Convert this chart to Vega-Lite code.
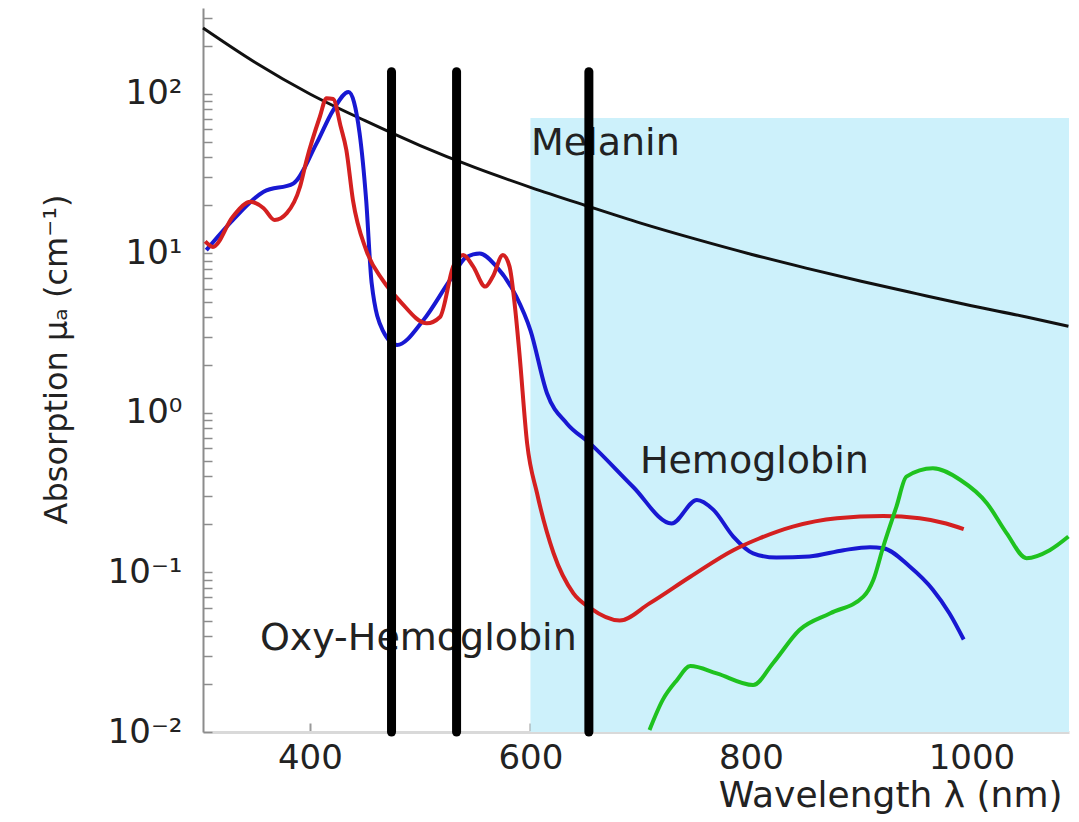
{
  "$schema": "https://vega.github.io/schema/vega-lite/v6.json",
  "width": 866,
  "height": 724,
  "autosize": {"type": "none"},
  "padding": {"left": 203, "top": 8, "right": 10, "bottom": 90},
  "background": "white",
  "config": {"view": {"stroke": null}, "font": "DejaVu Sans"},
  "datasets": {
    "regions": [{"nm": 600, "nm2": 1088.5, "mu": 0.01, "mu2": 70.8}],
    "labels": [
      {"label": "Melanin", "nm": 600.5, "mu": 41.5},
      {"label": "Hemoglobin", "nm": 699.3, "mu": 0.421},
      {"label": "Oxy-Hemoglobin", "nm": 354.6, "mu": 0.0327}
    ],
    "markers": [
      {"nm": 474, "mu": 138, "mu2": 0.01},
      {"nm": 533, "mu": 138, "mu2": 0.01},
      {"nm": 653, "mu": 138, "mu2": 0.01}
    ],
    "curves": [
      {"s": "Melanin", "nm": 303, "mu": 259},
      {"s": "Melanin", "nm": 350, "mu": 158},
      {"s": "Melanin", "nm": 400, "mu": 100},
      {"s": "Melanin", "nm": 450, "mu": 68},
      {"s": "Melanin", "nm": 500, "mu": 47.5},
      {"s": "Melanin", "nm": 550, "mu": 34.5},
      {"s": "Melanin", "nm": 600, "mu": 26},
      {"s": "Melanin", "nm": 650, "mu": 20},
      {"s": "Melanin", "nm": 700, "mu": 15.5},
      {"s": "Melanin", "nm": 750, "mu": 12.3},
      {"s": "Melanin", "nm": 800, "mu": 9.9},
      {"s": "Melanin", "nm": 850, "mu": 8.1},
      {"s": "Melanin", "nm": 900, "mu": 6.7},
      {"s": "Melanin", "nm": 950, "mu": 5.6},
      {"s": "Melanin", "nm": 1000, "mu": 4.7},
      {"s": "Melanin", "nm": 1050, "mu": 4.0},
      {"s": "Melanin", "nm": 1088, "mu": 3.5},

      {"s": "Hemoglobin", "nm": 306, "mu": 10.5},
      {"s": "Hemoglobin", "nm": 330, "mu": 16.2},
      {"s": "Hemoglobin", "nm": 358, "mu": 24.4},
      {"s": "Hemoglobin", "nm": 385, "mu": 27.5},
      {"s": "Hemoglobin", "nm": 406, "mu": 49},
      {"s": "Hemoglobin", "nm": 421, "mu": 79},
      {"s": "Hemoglobin", "nm": 435, "mu": 103},
      {"s": "Hemoglobin", "nm": 445, "mu": 57},
      {"s": "Hemoglobin", "nm": 451, "mu": 21.6},
      {"s": "Hemoglobin", "nm": 456, "mu": 6.5},
      {"s": "Hemoglobin", "nm": 466, "mu": 3.3},
      {"s": "Hemoglobin", "nm": 479, "mu": 2.67},
      {"s": "Hemoglobin", "nm": 503, "mu": 3.83},
      {"s": "Hemoglobin", "nm": 527, "mu": 6.8},
      {"s": "Hemoglobin", "nm": 542, "mu": 9.5},
      {"s": "Hemoglobin", "nm": 554, "mu": 10.0},
      {"s": "Hemoglobin", "nm": 569, "mu": 8.3},
      {"s": "Hemoglobin", "nm": 587, "mu": 5.4},
      {"s": "Hemoglobin", "nm": 600, "mu": 3.3},
      {"s": "Hemoglobin", "nm": 615, "mu": 1.33},
      {"s": "Hemoglobin", "nm": 633, "mu": 0.86},
      {"s": "Hemoglobin", "nm": 654, "mu": 0.645},
      {"s": "Hemoglobin", "nm": 693, "mu": 0.345},
      {"s": "Hemoglobin", "nm": 728, "mu": 0.203},
      {"s": "Hemoglobin", "nm": 751, "mu": 0.285},
      {"s": "Hemoglobin", "nm": 766, "mu": 0.247},
      {"s": "Hemoglobin", "nm": 784, "mu": 0.168},
      {"s": "Hemoglobin", "nm": 802, "mu": 0.132},
      {"s": "Hemoglobin", "nm": 823, "mu": 0.124},
      {"s": "Hemoglobin", "nm": 853, "mu": 0.126},
      {"s": "Hemoglobin", "nm": 884, "mu": 0.138},
      {"s": "Hemoglobin", "nm": 908, "mu": 0.144},
      {"s": "Hemoglobin", "nm": 920, "mu": 0.142},
      {"s": "Hemoglobin", "nm": 944, "mu": 0.109},
      {"s": "Hemoglobin", "nm": 965, "mu": 0.078},
      {"s": "Hemoglobin", "nm": 980, "mu": 0.0555},
      {"s": "Hemoglobin", "nm": 993, "mu": 0.038},

      {"s": "Oxy-Hemoglobin", "nm": 305, "mu": 11.9},
      {"s": "Oxy-Hemoglobin", "nm": 312, "mu": 11.0},
      {"s": "Oxy-Hemoglobin", "nm": 330, "mu": 17.0},
      {"s": "Oxy-Hemoglobin", "nm": 346, "mu": 21.1},
      {"s": "Oxy-Hemoglobin", "nm": 358, "mu": 19.2},
      {"s": "Oxy-Hemoglobin", "nm": 368, "mu": 16.2},
      {"s": "Oxy-Hemoglobin", "nm": 379, "mu": 17.9},
      {"s": "Oxy-Hemoglobin", "nm": 391, "mu": 26.2},
      {"s": "Oxy-Hemoglobin", "nm": 397, "mu": 38.6},
      {"s": "Oxy-Hemoglobin", "nm": 409, "mu": 72},
      {"s": "Oxy-Hemoglobin", "nm": 415, "mu": 94},
      {"s": "Oxy-Hemoglobin", "nm": 421, "mu": 93},
      {"s": "Oxy-Hemoglobin", "nm": 428, "mu": 62},
      {"s": "Oxy-Hemoglobin", "nm": 433, "mu": 44.6},
      {"s": "Oxy-Hemoglobin", "nm": 439, "mu": 21.6},
      {"s": "Oxy-Hemoglobin", "nm": 451, "mu": 10.5},
      {"s": "Oxy-Hemoglobin", "nm": 466, "mu": 6.8},
      {"s": "Oxy-Hemoglobin", "nm": 482, "mu": 5.0},
      {"s": "Oxy-Hemoglobin", "nm": 506, "mu": 3.65},
      {"s": "Oxy-Hemoglobin", "nm": 518, "mu": 4.0},
      {"s": "Oxy-Hemoglobin", "nm": 530, "mu": 8.3},
      {"s": "Oxy-Hemoglobin", "nm": 539, "mu": 9.8},
      {"s": "Oxy-Hemoglobin", "nm": 548, "mu": 8.3},
      {"s": "Oxy-Hemoglobin", "nm": 559, "mu": 6.2},
      {"s": "Oxy-Hemoglobin", "nm": 566, "mu": 7.2},
      {"s": "Oxy-Hemoglobin", "nm": 575, "mu": 9.8},
      {"s": "Oxy-Hemoglobin", "nm": 581, "mu": 8.3},
      {"s": "Oxy-Hemoglobin", "nm": 586, "mu": 4.6},
      {"s": "Oxy-Hemoglobin", "nm": 590, "mu": 2.37},
      {"s": "Oxy-Hemoglobin", "nm": 597, "mu": 0.645},
      {"s": "Oxy-Hemoglobin", "nm": 606, "mu": 0.314},
      {"s": "Oxy-Hemoglobin", "nm": 621, "mu": 0.132},
      {"s": "Oxy-Hemoglobin", "nm": 639, "mu": 0.074},
      {"s": "Oxy-Hemoglobin", "nm": 654, "mu": 0.06},
      {"s": "Oxy-Hemoglobin", "nm": 681, "mu": 0.05},
      {"s": "Oxy-Hemoglobin", "nm": 708, "mu": 0.064},
      {"s": "Oxy-Hemoglobin", "nm": 745, "mu": 0.094},
      {"s": "Oxy-Hemoglobin", "nm": 784, "mu": 0.138},
      {"s": "Oxy-Hemoglobin", "nm": 808, "mu": 0.164},
      {"s": "Oxy-Hemoglobin", "nm": 838, "mu": 0.194},
      {"s": "Oxy-Hemoglobin", "nm": 878, "mu": 0.219},
      {"s": "Oxy-Hemoglobin", "nm": 920, "mu": 0.226},
      {"s": "Oxy-Hemoglobin", "nm": 953, "mu": 0.219},
      {"s": "Oxy-Hemoglobin", "nm": 977, "mu": 0.203},
      {"s": "Oxy-Hemoglobin", "nm": 993, "mu": 0.187},

      {"s": "Water", "nm": 708, "mu": 0.0103},
      {"s": "Water", "nm": 720, "mu": 0.0159},
      {"s": "Water", "nm": 733, "mu": 0.0212},
      {"s": "Water", "nm": 745, "mu": 0.0259},
      {"s": "Water", "nm": 769, "mu": 0.0233},
      {"s": "Water", "nm": 802, "mu": 0.0197},
      {"s": "Water", "nm": 820, "mu": 0.027},
      {"s": "Water", "nm": 844, "mu": 0.0436},
      {"s": "Water", "nm": 872, "mu": 0.0555},
      {"s": "Water", "nm": 902, "mu": 0.0705},
      {"s": "Water", "nm": 911, "mu": 0.0897},
      {"s": "Water", "nm": 920, "mu": 0.145},
      {"s": "Water", "nm": 932, "mu": 0.259},
      {"s": "Water", "nm": 941, "mu": 0.399},
      {"s": "Water", "nm": 965, "mu": 0.45},
      {"s": "Water", "nm": 990, "mu": 0.38},
      {"s": "Water", "nm": 1014, "mu": 0.272},
      {"s": "Water", "nm": 1032, "mu": 0.176},
      {"s": "Water", "nm": 1050, "mu": 0.123},
      {"s": "Water", "nm": 1071, "mu": 0.138},
      {"s": "Water", "nm": 1088, "mu": 0.168}
    ]
  },
  "encoding": {
    "x": {
      "field": "nm",
      "type": "quantitative",
      "scale": {"domain": [303, 1088.5], "nice": false, "zero": false},
      "axis": {
        "title": "Wavelength λ  (nm)",
        "values": [400, 600, 800, 1000],
        "format": "d",
        "grid": false,
        "domainColor": "#d9d9d9",
        "domainWidth": 3,
        "tickColor": "#999999",
        "tickWidth": 2,
        "tickSize": -9,
        "labelFont": "DejaVu Sans",
        "labelFontSize": 34,
        "labelColor": "#222222",
        "labelPadding": 18,
        "labelFlush": false,
        "titleFont": "DejaVu Sans",
        "titleFontSize": 36,
        "titleFontWeight": "normal",
        "titleColor": "#222222",
        "titleX": 859,
        "titleY": 74,
        "titleAlign": "right",
        "titleBaseline": "alphabetic"
      }
    },
    "y": {
      "field": "mu",
      "type": "quantitative",
      "scale": {"type": "log", "domain": [0.01, 346], "nice": false},
      "axis": {
        "title": "Absorption μₐ (cm⁻¹)",
        "values": [0.01, 0.02, 0.03, 0.04, 0.05, 0.06, 0.07, 0.08, 0.09, 0.1, 0.2, 0.3, 0.4, 0.5, 0.6, 0.7, 0.8, 0.9, 1, 2, 3, 4, 5, 6, 7, 8, 9, 10, 20, 30, 40, 50, 60, 70, 80, 90, 100, 200, 300],
        "labelExpr": "datum.value == 100 ? '10²' : datum.value == 10 ? '10¹' : datum.value == 1 ? '10⁰' : datum.value == 0.1 ? '10⁻¹' : datum.value == 0.01 ? '10⁻²' : ''",
        "grid": false,
        "domainColor": "#8c8c8c",
        "domainWidth": 2,
        "tickColor": "#8c8c8c",
        "tickWidth": 1.5,
        "tickSize": -9,
        "labelFont": "DejaVu Sans",
        "labelFontSize": 34,
        "labelColor": "#222222",
        "labelPadding": 30,
        "labelOverlap": false,
        "labelFlush": false,
        "labelBound": false,
        "titleFont": "DejaVu Sans",
        "titleFontSize": 32,
        "titleFontWeight": "normal",
        "titleColor": "#222222",
        "titleX": -137,
        "titleY": 351,
        "titleAngle": -90,
        "titleAlign": "center",
        "titleBaseline": "alphabetic"
      }
    }
  },
  "layer": [
    {
      "data": {"name": "regions"},
      "mark": {"type": "rect", "color": "#cdf1fb"},
      "encoding": {
        "x2": {"field": "nm2"},
        "y2": {"field": "mu2"}
      }
    },
    {
      "data": {"name": "labels"},
      "mark": {"type": "text", "align": "left", "baseline": "alphabetic", "fontSize": 38, "font": "DejaVu Sans", "color": "#222222"},
      "encoding": {
        "text": {"field": "label"}
      }
    },
    {
      "data": {"name": "curves"},
      "mark": {"type": "line", "interpolate": "monotone"},
      "encoding": {
        "color": {
          "field": "s",
          "type": "nominal",
          "scale": {"domain": ["Melanin", "Hemoglobin", "Oxy-Hemoglobin", "Water"], "range": ["#111111", "#1818d2", "#d42020", "#1fc21f"]},
          "legend": null
        },
        "strokeWidth": {"condition": {"test": "datum.s === 'Melanin'", "value": 3}, "value": 4}
      }
    },
    {
      "data": {"name": "markers"},
      "mark": {"type": "rule", "strokeWidth": 9, "color": "black", "strokeCap": "round", "clip": false},
      "encoding": {
        "y2": {"field": "mu2"}
      }
    }
  ]
}
